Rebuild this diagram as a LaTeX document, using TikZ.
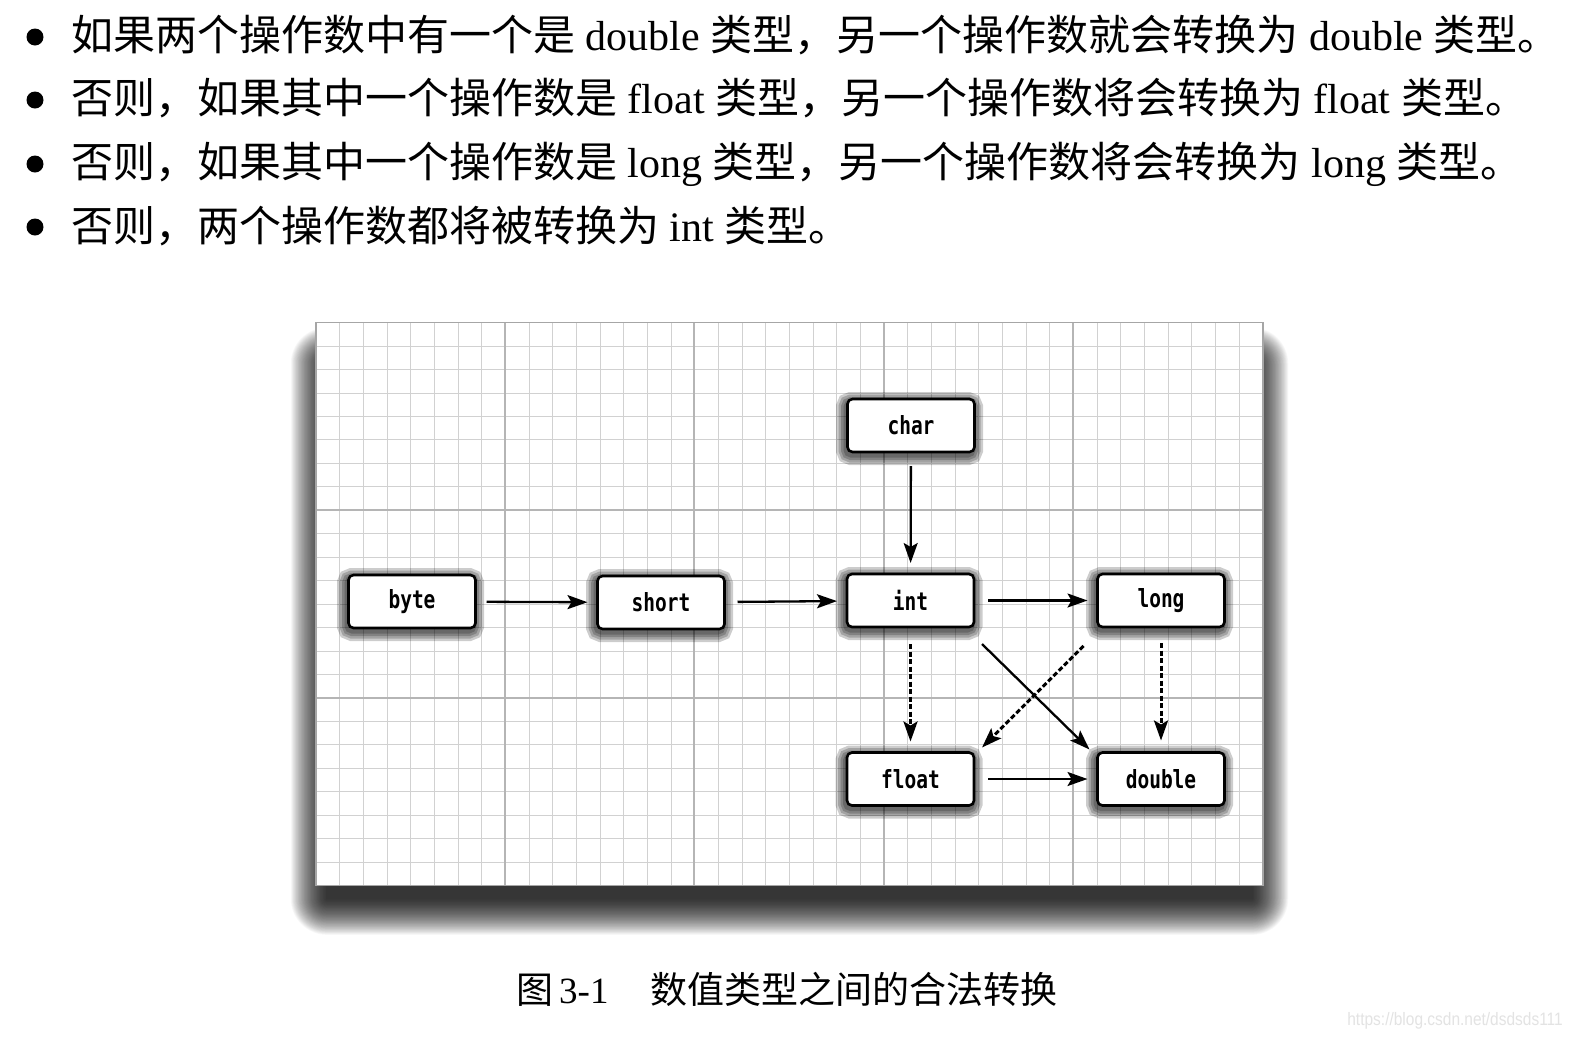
\documentclass[tikz,border=0pt]{standalone}
\usepackage{fontspec}
\setmainfont{Liberation Serif}
\newfontfamily\cjk{Noto Sans CJK SC}
\newfontfamily\codefont[FakeStretch=0.78]{DejaVu Sans Mono}
\newfontfamily\wmfont[FakeStretch=0.86]{Liberation Sans}
\newcommand\myzh[1]{{\cjk #1}}
\usetikzlibrary{arrows.meta,shadows,calc}
\tikzset{
  nsh/.style={general shadow={draw=black, fill=none, line width=#1, draw opacity=0.2, shadow xshift=-1.5pt, shadow yshift=-3pt}},
  tbox/.style={draw=black, line width=2.6pt, fill=white, rounded corners=5pt,
    minimum width=127pt, minimum height=53pt, inner sep=0pt, outer sep=0pt,
    font=\codefont\bfseries\fontsize{25}{25}\selectfont,
    nsh=20pt, nsh=15pt, nsh=10pt, nsh=5pt},
  arr/.style={line width=2.3pt, -{Stealth[length=20pt,width=14pt,inset=4pt]}},
  darr/.style={arr, line width=3pt, dash pattern=on 5pt off 2.5pt},
  minorline/.style={gray!36, line width=1pt},
  majorline/.style={gray!58, line width=2pt},
  bline/.style={anchor=base west, inner sep=0pt, font=\fontsize{42}{42}\selectfont},
  bullet/.style={circle, fill=black, minimum size=17pt, inner sep=0pt},
}
\begin{document}
\begin{tikzpicture}[x=1pt,y=-1pt]
\useasboundingbox (0,0) rectangle (1575,1037);
\fill[white] (0,0) rectangle (1575,1037);

% bullet lines
\node[bullet] (b1) at (35,37) {};
\node[bullet] (b2) at (35,100) {};
\node[bullet] (b3) at (35,164) {};
\node[bullet] (b4) at (35,227) {};
\node[bline] (l1) at (71,50) {\myzh{如果两个操作数中有一个是} double \myzh{类型，另一个操作数就会转换为} double \myzh{类型。}};
\node[bline] (l2) at (71,113) {\myzh{否则，如果其中一个操作数是} float \myzh{类型，另一个操作数将会转换为} float \myzh{类型。}};
\node[bline] (l3) at (71,177) {\myzh{否则，如果其中一个操作数是} long \myzh{类型，另一个操作数将会转换为} long \myzh{类型。}};
\node[bline] (l4) at (71,241) {\myzh{否则，两个操作数都将被转换为} int \myzh{类型。}};

% panel shadow (soft, mostly below)
\foreach \i in {0,...,47}{
  \pgfmathsetmacro\rr{\i*0.75+1}
  \fill[black, opacity=0.026, rounded corners=\rr pt]
    ({316+10-\i*0.75},{322.7+40-\i*0.75}) rectangle ({1263-10+\i*0.75},{885.6+14+\i*0.75});
}
% panel and grid
\fill[white] (316,322.7) rectangle (1263,885.6);
\foreach \i in {0,...,40}
  \draw[minorline] ({316+\i*23.675},322.7) -- ({316+\i*23.675},885.6);
\foreach \j in {0,...,24}
  \draw[minorline] (316,{322.7+\j*23.454}) -- (1263,{322.7+\j*23.454});
\foreach \xx in {505,694,884,1073}
  \draw[majorline] (\xx,322.7) -- (\xx,885.6);
\foreach \yy in {510,698}
  \draw[majorline] (316,\yy) -- (1263,\yy);
\draw[gray!70, line width=1.4pt] (316,322.7) rectangle (1263,885.6);

% nodes
\node[tbox] (char) at (911,425.5) {char};
\node[tbox] (byte) at (412,601.5) {byte};
\node[tbox] (short) at (661,602.5) {short};
\node[tbox] (int) at (910.5,600.5) {int};
\node[tbox] (long) at (1161,600.5) {long};
\node[tbox] (float) at (910.5,779) {float};
\node[tbox] (double) at (1161,779) {double};

% connectors
\draw[arr, shorten <=11pt, shorten >=10pt] (byte) -- (short);
\draw[arr, shorten <=13pt, shorten >=10pt] (short) -- (int);
\draw[arr, shorten <=14pt, shorten >=10pt] (int) -- (long);
\draw[arr, shorten <=14pt, shorten >=11pt] (char) -- (int);
\draw[arr, shorten <=14pt, shorten >=10pt] (float) -- (double);
\draw[darr, shorten <=17pt, shorten >=11pt] (int) -- (float);
\draw[darr, shorten <=16pt, shorten >=12pt] (long) -- (double);
\draw[arr] ($(int.south east)+(8,17)$) -- ($(double.north west)+(-8,-3)$);
\draw[darr] ($(long.south west)+(-14,19)$) -- ($(float.north east)+(8,-5)$);

% caption
\node[anchor=base west, inner sep=0pt, font=\fontsize{37}{37}\selectfont] (cap) at (516,1003)
  {\myzh{图}\hspace{6pt}3-1\hspace{42pt}\myzh{数值类型之间的合法转换}};
% watermark
\node[anchor=base east, inner sep=0pt, text=gray!22, font=\wmfont\fontsize{18}{18}\selectfont] (wm) at (1563,1025) {https://blog.csdn.net/dsdsds111};
\end{tikzpicture}
\end{document}
